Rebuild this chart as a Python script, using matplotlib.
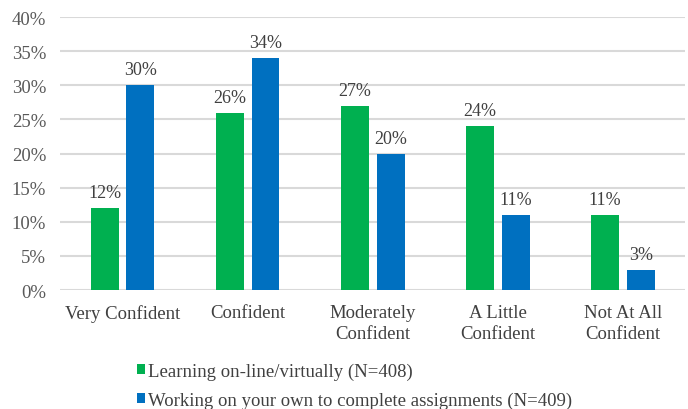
import matplotlib
matplotlib.use("Agg")
import matplotlib.pyplot as plt
from matplotlib.patches import Patch
import numpy as np

categories = ["Very Confident", "Confident", "Moderately\nConfident", "A Little\nConfident", "Not At All\nConfident"]
online = [12, 26, 27, 24, 11]
own_work = [30, 34, 20, 11, 3]
series_names = ["Learning on-line/virtually (N=408)",
                "Working on your own to complete assignments (N=409)"]
yticks = [0, 5, 10, 15, 20, 25, 30, 35, 40]

GREEN = "#00B050"
BLUE = "#0070C0"
TXT = "#595959"
FS = 13.5

plt.rcParams['font.family'] = ['Liberation Serif', 'DejaVu Serif']

fig = plt.figure(figsize=(6.88, 4.10), dpi=100)
ax = fig.add_axes([0.0872, 0.290, 0.909, 0.666])

x = np.arange(len(categories))
w = 0.223
off = 0.143
b1 = ax.bar(x - off, online, w, color=GREEN, zorder=3)
b2 = ax.bar(x + off, own_work, w, color=BLUE, zorder=3)

for bars, vals in ((b1, online), (b2, own_work)):
    for r, v in zip(bars, vals):
        ax.annotate(f"{v}%", (r.get_x() + r.get_width() / 2, v),
                    xytext=(0, 5), textcoords="offset points",
                    ha="center", va="bottom", fontsize=13, color="#404040")

ax.set_xlim(-0.5, len(categories) - 0.5)
ax.set_ylim(0, 40)
ax.set_yticks(yticks)
ax.set_yticklabels([f"{t}%" for t in yticks], fontsize=FS, color=TXT)
ax.set_xticks(x)
ax.set_xticklabels(categories, fontsize=FS, color="#404040", linespacing=1.3)
ax.tick_params(axis="both", length=0)
ax.tick_params(axis="y", pad=10)
ax.tick_params(axis="x", pad=10)
ax.grid(axis="y", color="#D9D9D9", linewidth=1.5, zorder=0)
for s in ax.spines.values():
    s.set_visible(False)

handles = [Patch(facecolor=GREEN), Patch(facecolor=BLUE)]
fig.legend(handles, series_names, loc="upper left", bbox_to_anchor=(0.199, 0.113),
           ncol=1, frameon=False, fontsize=FS, labelcolor="#404040",
           handlelength=0.45, handleheight=0.45, handletextpad=0.12,
           labelspacing=0.6, borderaxespad=0, borderpad=0)

fig.savefig("out.png", dpi=100)
